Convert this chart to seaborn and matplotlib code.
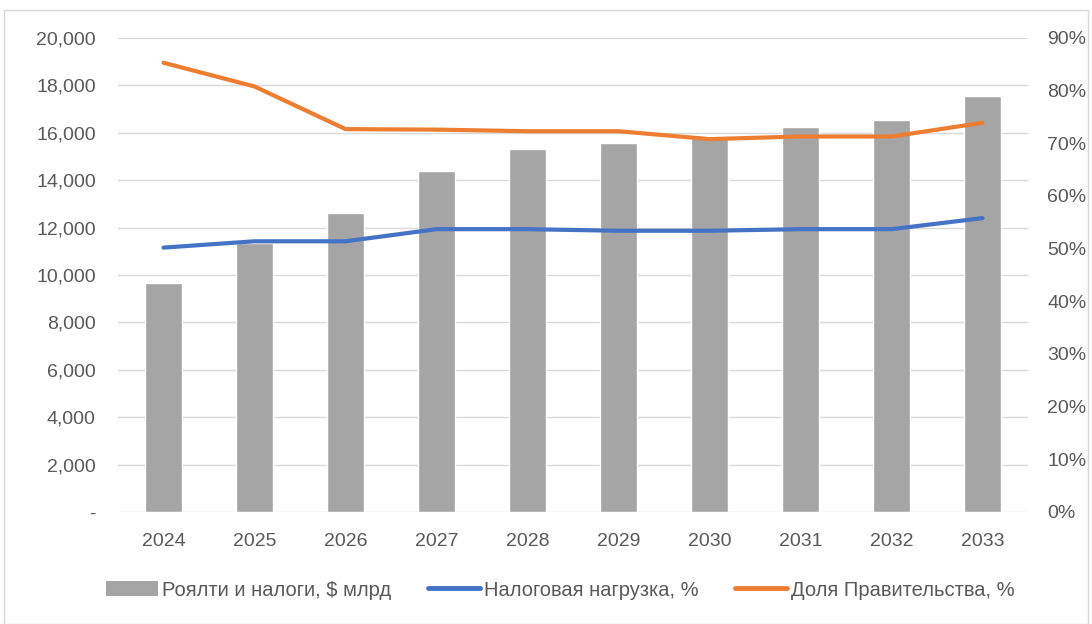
import numpy as np
import pandas as pd
import seaborn as sns
import matplotlib.pyplot as plt
from matplotlib.patches import Patch, Rectangle
from matplotlib.lines import Line2D
from matplotlib.ticker import FuncFormatter

# данные
years = ['2024', '2025', '2026', '2027', '2028', '2029', '2030', '2031', '2032', '2033']
royalties = [9650, 11350, 12600, 14400, 15300, 15550, 15800, 16250, 16550, 17550]
tax_burden = [50.2, 51.4, 51.4, 53.7, 53.7, 53.4, 53.4, 53.7, 53.7, 55.8]
gov_share = [85.3, 80.8, 72.7, 72.6, 72.3, 72.3, 70.8, 71.3, 71.3, 73.9]

labels = ['Роялти и налоги, $ млрд', 'Налоговая нагрузка, %', 'Доля Правительства, %']

bar_color = '#A5A5A5'
blue = '#4472C4'
orange = '#ED7D31'
text_color = '#595959'

sns.set_theme(style='white')
plt.rcParams['font.family'] = ['Liberation Sans', 'DejaVu Sans']

df = pd.DataFrame({'year': years, 'royalties': royalties,
                   'tax': tax_burden, 'gov': gov_share})
df['pos'] = np.arange(len(df))

fig = plt.figure(figsize=(10.92, 6.24), dpi=100)
ax = fig.add_axes([118 / 1092, 1 - 512 / 624, 910 / 1092, 474 / 624])

sns.barplot(data=df, x='year', y='royalties', color=bar_color, width=0.4,
            saturation=1, ax=ax)
ax.set_xlim(-0.5, len(years) - 0.5)
ax.set_ylim(0, 20000)
ax.set_yticks(range(0, 20001, 2000))
ax.yaxis.set_major_formatter(FuncFormatter(lambda v, p: '-' if v == 0 else f'{int(v):,}'))
ax.grid(axis='y', color='#D9D9D9', linewidth=1)
ax.set_axisbelow(True)
for s in ax.spines.values():
    s.set_visible(False)
ax.set_xlabel('')
ax.set_ylabel('')
ax.tick_params(axis='y', length=0, pad=16, labelsize=14, labelcolor=text_color)
ax.tick_params(axis='x', length=0, pad=15, labelsize=14, labelcolor=text_color)

ax2 = ax.twinx()
sns.lineplot(data=df, x='pos', y='tax', color=blue, linewidth=3, ax=ax2)
sns.lineplot(data=df, x='pos', y='gov', color=orange, linewidth=3, ax=ax2)
ax2.set_ylim(0, 90)
ax2.set_yticks(range(0, 91, 10))
ax2.yaxis.set_major_formatter(FuncFormatter(lambda v, p: f'{int(v)}%'))
ax2.tick_params(axis='y', length=0, pad=14, labelsize=14, labelcolor=text_color)
ax2.set_xlim(-0.5, len(years) - 0.5)
ax2.set_xlabel('')
ax2.set_ylabel('')
for s in ax2.spines.values():
    s.set_visible(False)
ax2.grid(False)

handles = [Patch(facecolor=bar_color, edgecolor='none'),
           Line2D([], [], color=blue, linewidth=3.5),
           Line2D([], [], color=orange, linewidth=3.5)]
fig.legend(handles, labels, loc='center', bbox_to_anchor=(0.513, 1 - 590 / 624),
           ncol=3, frameon=False, fontsize=14.5, labelcolor=text_color,
           handlelength=2.6, handletextpad=0.2, columnspacing=1.8)

fig.patches.append(Rectangle((4 / 1092, 0), 1084 / 1092, 1 - 10 / 624,
                             transform=fig.transFigure, fill=False,
                             edgecolor='#D9D9D9', linewidth=1))

fig.savefig('out.png', dpi=100)
